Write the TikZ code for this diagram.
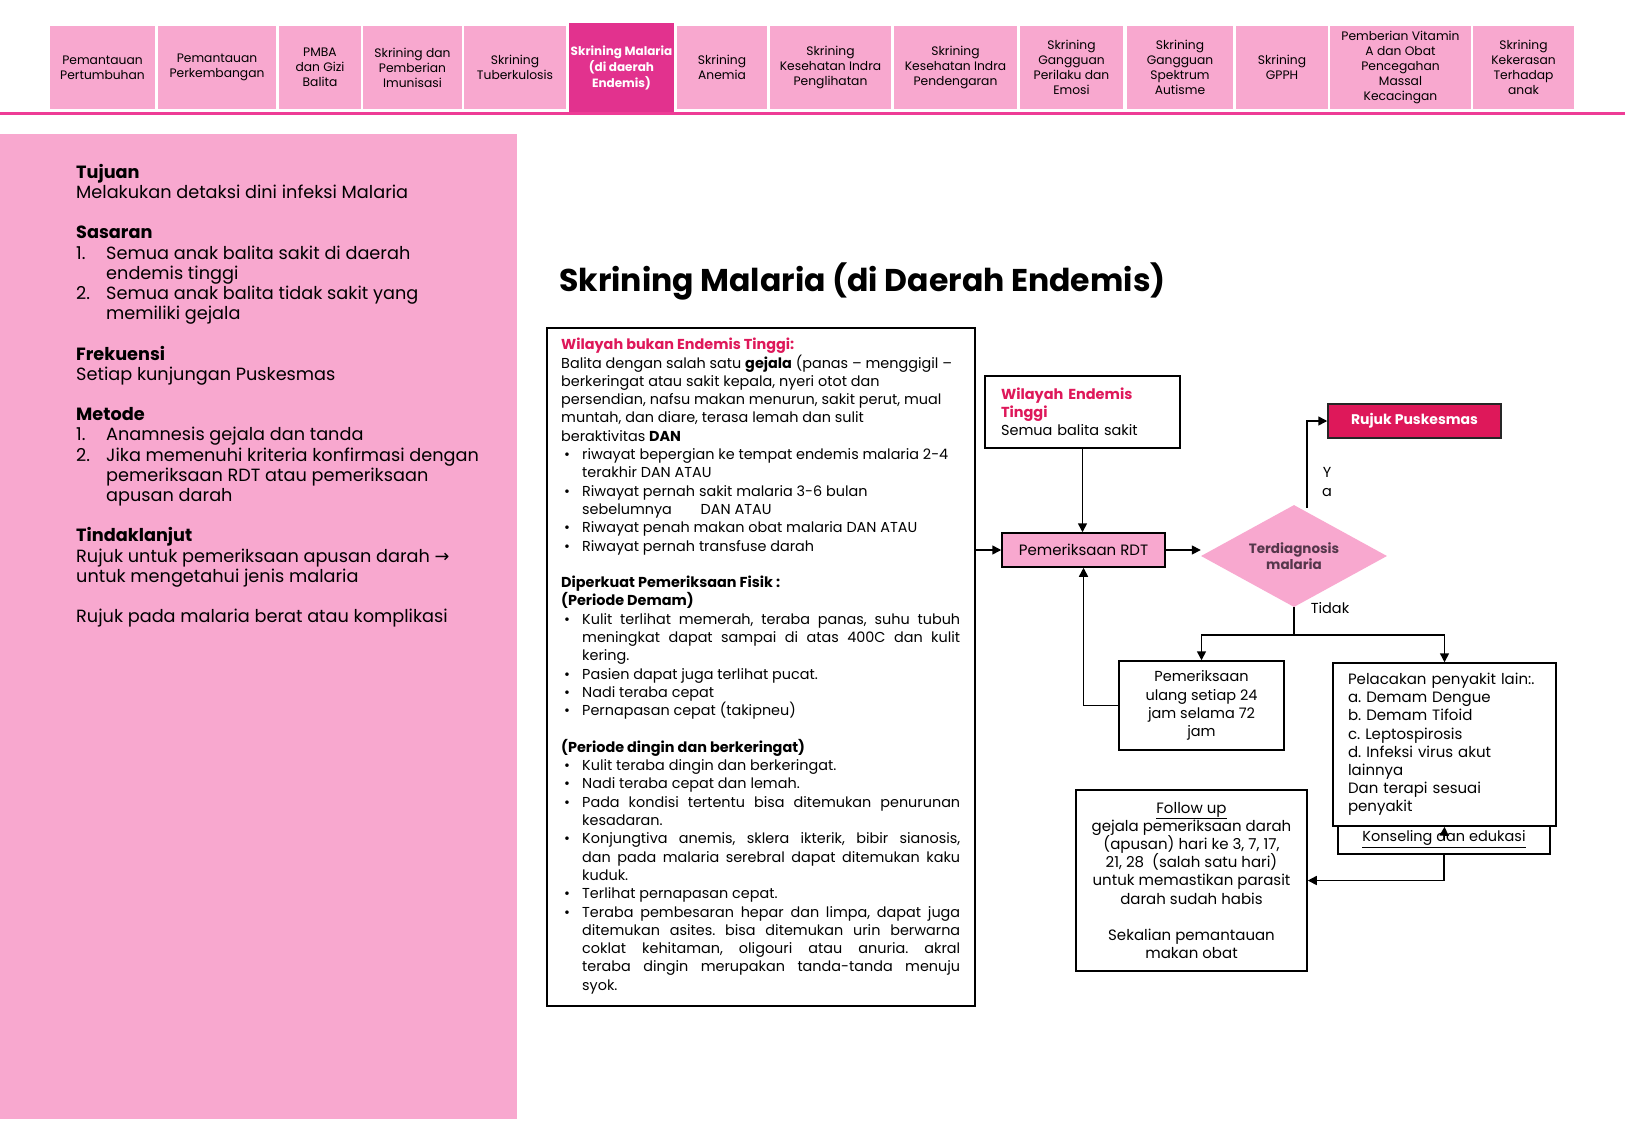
\documentclass[tikz,border=0pt]{standalone}
\usepackage{fontspec}
\setmainfont{Poppins}
\newfontfamily\symf{DejaVu Sans}
\usetikzlibrary{arrows.meta,shapes.geometric}
\definecolor{tabpink}{RGB}{248,168,207}
\definecolor{tabsel}{RGB}{226,50,142}
\definecolor{garis}{RGB}{238,60,150}
\definecolor{merah}{RGB}{222,24,90}
\definecolor{teksdia}{RGB}{85,55,75}
\newcommand{\nm}[1]{\makebox[30pt][l]{#1}}
\newcommand{\bul}{\hspace*{3pt}\makebox[18pt][l]{\textbullet}}
\newcommand{\ind}{\hspace*{21pt}}
\newcommand{\jus}[1]{\makebox[378pt][s]{#1}}
\frenchspacing

\begin{document}
\begin{tikzpicture}[x=1pt,y=-1pt,
  tab/.style={fill=tabpink,minimum height=83,inner sep=0pt,align=center,font=\fontsize{12.3}{15}\selectfont},
  kotak/.style={draw=black,line width=1.5,fill=white,inner sep=0pt},
  panah/.style={line width=1.5,-{Triangle[length=9pt,width=9pt]}},
  isi/.style={font=\fontsize{14.5}{18.2}\selectfont}]
\useasboundingbox[fill=white] (0,0) rectangle (1625,1125);

% menu atas
\foreach \xa/\xb/\judul [count=\i] in {50/155/{Pemantauan\\Pertumbuhan},
    158/276/{Pemantauan\\Perkembangan}, 279/361/{PMBA\\dan Gizi\\Balita},
    363/462/{Skrining dan\\Pemberian\\Imunisasi}, 464/566/{Skrining\\Tuberkulosis},
    677/767/{Skrining\\Anemia}, 770/891/{Skrining\\Kesehatan Indra\\Penglihatan},
    894/1017/{Skrining\\Kesehatan Indra\\Pendengaran},
    1020/1123/{Skrining\\Gangguan\\Perilaku dan\\Emosi},
    1127/1233/{Skrining\\Gangguan\\Spektrum\\Autisme}, 1236/1328/{Skrining\\GPPH},
    1330/1471/{Pemberian Vitamin\\A dan Obat\\Pencegahan\\Massal\\Kecacingan},
    1473/1574/{Skrining\\Kekerasan\\Terhadap\\anak}}
  \node[tab,minimum width=\xb-\xa] (tab\i) at ({(\xa+\xb)/2},67.5) {\judul};
\node[tab,fill=tabsel,text=white,minimum width=105,minimum height=89,
  font=\fontsize{12}{16}\selectfont\bfseries] (tabmal) at (621.5,67.5)
  {Skrining Malaria\\(di daerah\\Endemis)};
\fill[garis] (0,111.5) rectangle (1625,114.5);

% panel kiri
\fill[tabpink] (0,134) rectangle (517,1119);
\node[anchor=north west,align=left,inner sep=0pt,font=\fontsize{17.7}{20.2}\selectfont] (tujuan) at (76,164) {%
\textbf{Tujuan}\\
Melakukan detaksi dini infeksi Malaria\\[20.2pt]
\textbf{Sasaran}\\
\nm{1.}Semua anak balita sakit di daerah\\
\nm{}endemis tinggi\\
\nm{2.}Semua anak balita tidak sakit yang\\
\nm{}memiliki gejala\\[20.2pt]
\textbf{Frekuensi}\\
Setiap kunjungan Puskesmas\\[20.2pt]
\textbf{Metode}\\
\nm{1.}Anamnesis gejala dan tanda\\
\nm{2.}Jika memenuhi kriteria konfirmasi dengan\\
\nm{}pemeriksaan RDT atau pemeriksaan\\
\nm{}apusan darah\\[20.2pt]
\textbf{Tindaklanjut}\\
Rujuk untuk pemeriksaan apusan darah {\symf →}\\
untuk mengetahui jenis malaria\\[20.2pt]
Rujuk pada malaria berat atau komplikasi};

\node[anchor=west,inner sep=0pt,font=\fontsize{31.5}{36}\selectfont\bfseries] (judul) at (559,281)
  {Skrining Malaria (di Daerah Endemis)};

% kotak keterangan
\node[kotak,minimum width=428,minimum height=678,anchor=north west] (ket) at (546,327) {};
\node[anchor=north west,align=left,inner sep=0pt,font=\fontsize{14.4}{18.3}\selectfont] (kettks) at (561,338) {%
\textcolor{merah}{\textbf{Wilayah bukan Endemis Tinggi:}}\\
Balita dengan salah satu \textbf{gejala} (panas – menggigil –\\
berkeringat atau sakit kepala, nyeri otot dan\\
persendian, nafsu makan menurun, sakit perut, mual\\
muntah, dan diare, terasa lemah dan sulit\\
beraktivitas \textbf{DAN}\\
\bul riwayat bepergian ke tempat endemis malaria 2-4\\
\ind terakhir DAN ATAU\\
\bul Riwayat pernah sakit malaria 3-6 bulan\\
\ind sebelumnya\hspace{2em}DAN ATAU\\
\bul Riwayat penah makan obat malaria DAN ATAU\\
\bul Riwayat pernah transfuse darah\\[18.3pt]
\textbf{Diperkuat Pemeriksaan Fisik :}\\
\textbf{(Periode Demam)}\\
\bul\jus{Kulit terlihat memerah, teraba panas, suhu tubuh}\\
\ind\jus{meningkat dapat sampai di atas 400C dan kulit}\\
\ind kering.\\
\bul Pasien dapat juga terlihat pucat.\\
\bul Nadi teraba cepat\\
\bul Pernapasan cepat (takipneu)\\[18.3pt]
\textbf{(Periode dingin dan berkeringat)}\\
\bul Kulit teraba dingin dan berkeringat.\\
\bul Nadi teraba cepat dan lemah.\\
\bul\jus{Pada kondisi tertentu bisa ditemukan penurunan}\\
\ind kesadaran.\\
\bul\jus{Konjungtiva anemis, sklera ikterik, bibir sianosis,}\\
\ind\jus{dan pada malaria serebral dapat ditemukan kaku}\\
\ind kuduk.\\
\bul Terlihat pernapasan cepat.\\
\bul\jus{Teraba pembesaran hepar dan limpa, dapat juga}\\
\ind\jus{ditemukan asites. bisa ditemukan urin berwarna}\\
\ind\jus{coklat kehitaman, oligouri atau anuria. akral}\\
\ind\jus{teraba dingin merupakan tanda-tanda menuju}\\
\ind syok.};

% alur
\node[kotak,isi,text width=163,inner xsep=16,minimum height=72,align=left] (wil) at (1082.5,412)
  {\textcolor{merah}{\textbf{Wilayah Endemis\\Tinggi}}\\Semua balita sakit};
\node[kotak,fill=tabpink,minimum width=163,minimum height=34,font=\fontsize{15}{18}\selectfont] (rdt) at (1083.5,550)
  {Pemeriksaan RDT};
\node[diamond,aspect=1.8,fill=tabpink,minimum width=186,minimum height=102,inner sep=0pt,text=teksdia,
  align=center,font=\fontsize{13.5}{16.5}\selectfont\bfseries] (dg) at (1294,556) {Terdiagnosis\\malaria};
\node[draw=black!85,line width=1.5,fill=merah,text=white,minimum width=173,minimum height=34,
  font=\fontsize{14}{17}\selectfont\bfseries] (rujuk) at (1414.5,421) {Rujuk Puskesmas};
\node[kotak,isi,minimum width=165,minimum height=89,align=center] (ulang) at (1201.5,705.5)
  {Pemeriksaan\\ulang setiap 24\\jam selama 72\\jam};
\node[kotak,isi,minimum width=212,minimum height=30] (kons) at (1444,839) {\underline{Konseling dan edukasi}};
\node[kotak,text width=193,inner xsep=15,minimum height=163,align=left,
  font=\fontsize{15}{18.2}\selectfont] (pel) at (1444.5,744.5)
  {Pelacakan penyakit lain:.\\a. Demam Dengue\\b. Demam Tifoid\\c. Leptospirosis\\d. Infeksi virus akut\\lainnya\\Dan terapi sesuai\\penyakit};
\node[kotak,minimum width=231,minimum height=181,align=center,
  font=\fontsize{15}{18.2}\selectfont] (fol) at (1191.5,880.5)
  {\underline{Follow up}\\gejala pemeriksaan darah\\(apusan) hari ke 3, 7, 17,\\21, 28~~(salah satu hari)\\untuk memastikan parasit\\darah sudah habis\\[18.2pt]Sekalian pemantauan\\makan obat};
\node[isi,align=center,inner sep=0pt] (ya) at (1327,482) {Y\\a};
\node[isi,inner sep=0pt] (tidak) at (1330,608) {Tidak};

\draw[panah] (ket.east |- rdt.west) -- (rdt.west);
\draw[panah] (wil.south) -- (wil.south |- rdt.north);
\draw[panah] (rdt.east) -- (rdt.east -| dg.west);
\draw[panah] ([shift={(13,3)}]dg.north) |- (rujuk.west);
\draw[line width=1.5] (dg.south) -- ++(0,28) coordinate (cabang);
\draw[panah] (cabang) -| (ulang.north);
\draw[panah] (cabang) -| (pel.north);
\draw[panah] (ulang.west) -| (rdt.south);
\draw[panah] (kons.center) -- (pel.south);
\draw[panah] (kons.south) |- (fol.east);
\end{tikzpicture}
\end{document}
